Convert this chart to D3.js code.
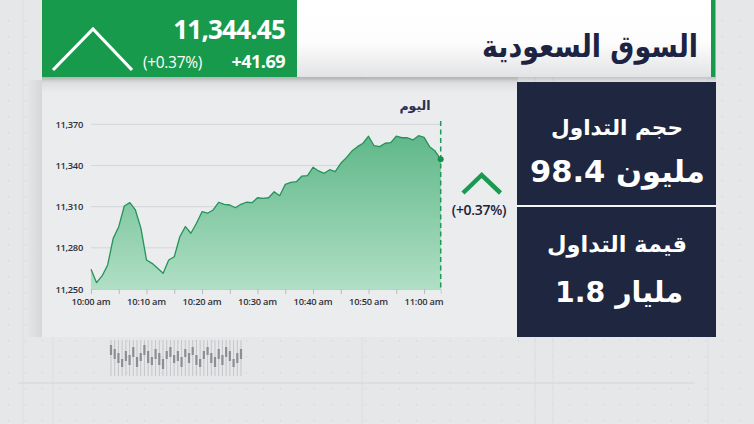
<!DOCTYPE html>
<html><head><meta charset="utf-8">
<script src="https://cdn.jsdelivr.net/npm/d3@7"></script>
<style>
html,body{margin:0;padding:0;background:#e6e7e9;}
svg{display:block;}
</style></head>
<body>
<svg id="c" width="754" height="424"></svg>
<script>
// ---- data ----
const times = ["10:00","10:01","10:02","10:03","10:04","10:05","10:06","10:07","10:08","10:09",
"10:10","10:11","10:12","10:13","10:14","10:15","10:16","10:17","10:18","10:19",
"10:20","10:21","10:22","10:23","10:24","10:25","10:26","10:27","10:28","10:29",
"10:30","10:31","10:32","10:33","10:34","10:35","10:36","10:37","10:38","10:39",
"10:40","10:41","10:42","10:43","10:44","10:45","10:46","10:47","10:48","10:49",
"10:50","10:51","10:52","10:53","10:54","10:55","10:56","10:57","10:58","10:59",
"11:00","11:01","11:02","11:03"];
const values = [11264.4,11254.6,11259.5,11267.5,11286.9,11295.4,11310.5,11312.9,11307.6,11294.2,
11271.1,11268.7,11265.1,11261.4,11271.1,11273.5,11288.1,11295.4,11290.6,11297.9,
11306.3,11305.2,11307.6,11313.2,11311.7,11311.2,11309.2,11311.7,11313.2,11312.9,
11316.5,11316.1,11316.5,11320.9,11318.0,11326.3,11327.7,11328.2,11332.3,11332.6,
11338.7,11336.0,11334.3,11336.9,11335.5,11341.6,11345.7,11350.5,11353.7,11356.2,
11361.3,11354.4,11353.7,11356.2,11356.6,11361.3,11360.2,11360.2,11358.6,11361.7,
11360.5,11353.7,11350.5,11344.45];
const yTicks = [11250,11280,11310,11340,11370];
const xTickTimes = ["10:00","10:05","10:10","10:15","10:20","10:25","10:30","10:35","10:40","10:45","10:50","10:55","11:00"];
const xLabelTimes = ["10:00","10:10","10:20","10:30","10:40","10:50","11:00"];
const xLabels = ["10:00 am","10:10 am","10:20 am","10:30 am","10:40 am","10:50 am","11:00 am"];
const indexValue = "11,344.45";
const indexChange = "+41.69";
const indexPct = "(+0.37%)";
const title = "السوق السعودية";
const dayLabel = "اليوم";
const volLabel = "حجم التداول";
const volValue = "مليون 98.4";
const valLabel = "قيمة التداول";
const valValue = "مليار 1.8";
// decorative candles in background [bodyTop, bodyBottom] offsets
const candles = [[4,14],[8,18],[12,22],[18,26],[10,20],[14,24],[6,16],[16,26],[12,20],[4,14],
[10,22],[16,24],[8,18],[12,24],[18,28],[10,18],[6,16],[14,22],[10,20],[16,26],
[8,16],[12,22],[6,14],[14,24],[18,26],[10,18],[6,14],[12,22],[16,26],[8,18],
[14,24],[6,16],[10,20],[18,26],[12,22],[8,18]];

const parse = d3.timeParse("%H:%M");
const svg = d3.select("#c");
const defs = svg.append("defs");

// ---- background decoration ----
const bg = svg.append("g");
bg.append("rect").attr("width",754).attr("height",424).attr("fill","#e6e7e9");
const dotsX = d3.range(8, 754, 17), dotsY = d3.range(20, 424, 16);
dotsY.forEach(y => bg.selectAll(null).data(dotsX).enter().append("rect")
  .attr("x", d=>d).attr("y", y).attr("width",1).attr("height",1.5).attr("fill","#d4d5d8"));
[23, 53, 362, 535, 553, 708].forEach(x => bg.append("line").attr("x1",x).attr("x2",x)
  .attr("y1",0).attr("y2",424).attr("stroke","#dddee1").attr("stroke-width",1));
bg.append("line").attr("x1",18).attr("x2",695).attr("y1",383).attr("y2",383).attr("stroke","#dadbde").attr("stroke-width",1.5);
// candles
const cx = d3.scaleLinear().domain([0, candles.length-1]).range([111, 241]);
const cg = bg.append("g");
cg.selectAll(".w").data(candles).enter().append("line")
  .attr("x1",(d,i)=>cx(i)).attr("x2",(d,i)=>cx(i)).attr("y1",340).attr("y2",376)
  .attr("stroke","#c4c5c8").attr("stroke-width",1);
cg.selectAll(".b").data(candles).enter().append("rect")
  .attr("x",(d,i)=>cx(i)-1.1).attr("y",d=>341+d[0]).attr("width",2.2).attr("height",d=>d[1]-d[0])
  .attr("fill","#8d8e92");

// ---- chart panel ----
const sh = defs.append("linearGradient").attr("id","lsh").attr("x1",0).attr("x2",1).attr("y1",0).attr("y2",0);
sh.append("stop").attr("offset",0).attr("stop-color","#000").attr("stop-opacity",0);
sh.append("stop").attr("offset",1).attr("stop-color","#000").attr("stop-opacity",0.07);
svg.append("rect").attr("x",26).attr("y",80).attr("width",16).attr("height",257).attr("fill","url(#lsh)");
svg.append("rect").attr("x",42).attr("y",80).attr("width",476).attr("height",257).attr("fill","#ebecee");
const tsh = defs.append("linearGradient").attr("id","tsh").attr("x1",0).attr("x2",0).attr("y1",0).attr("y2",1);
tsh.append("stop").attr("offset",0).attr("stop-color","#000").attr("stop-opacity",0.09);
tsh.append("stop").attr("offset",1).attr("stop-color","#000").attr("stop-opacity",0);
svg.append("rect").attr("x",42).attr("y",77).attr("width",476).attr("height",16).attr("fill","url(#tsh)");

// ---- scales ----
const x = d3.scaleTime().domain([parse("10:00"), parse("11:03")]).range([91, 440.7]);
const y = d3.scaleLinear().domain([11250, 11370]).range([289, 124.3]);
const data = times.map((t,i)=>({t:parse(t), v:values[i]}));

// grid
const g = svg.append("g");
g.selectAll(".grid").data(yTicks).enter().append("line")
  .attr("x1",91).attr("x2",441).attr("y1",d=>y(d)).attr("y2",d=>y(d))
  .attr("stroke","#d3d5d8").attr("stroke-width",1);
g.selectAll(".yl").data(yTicks).enter().append("text")
  .attr("x",83).attr("y",d=>y(d)+3.5).attr("text-anchor","end")
  .attr("font-family","Open Sans").attr("font-weight",600).attr("font-size",9.4).attr("fill","#2e3038")
  .attr("letter-spacing",-0.3).text(d3.format(","));

// area
const ag = defs.append("linearGradient").attr("id","ag").attr("gradientUnits","userSpaceOnUse")
  .attr("x1",0).attr("x2",0).attr("y1",130).attr("y2",289);
ag.append("stop").attr("offset",0).attr("stop-color","#5db687");
ag.append("stop").attr("offset",1).attr("stop-color","#b0dfc5");
g.append("path").datum(data)
  .attr("d", d3.area().x(d=>x(d.t)).y0(y(11250)).y1(d=>y(d.v)))
  .attr("fill","url(#ag)");
g.append("path").datum(data)
  .attr("d", d3.line().x(d=>x(d.t)).y(d=>y(d.v)))
  .attr("fill","none").attr("stroke","#23935a").attr("stroke-width",1.3).attr("stroke-linejoin","round");

// x axis
const xa = g.append("g").attr("transform","translate(0,289)")
  .call(d3.axisBottom(x).tickValues(xTickTimes.map(parse)).tickSize(5).tickFormat(""));
xa.select(".domain").attr("stroke","#c9cbce");
xa.selectAll(".tick line").attr("stroke","#b9bbbf");
g.selectAll(".xl").data(xLabelTimes).enter().append("text")
  .attr("x",d=>x(parse(d))).attr("y",305).attr("text-anchor","middle")
  .attr("font-family","Open Sans").attr("font-weight",600).attr("font-size",9.3).attr("fill","#2e3038")
  .attr("letter-spacing",-0.2).text((d,i)=>xLabels[i]);

// dashed end line + dot
const last = data[data.length-1];
g.append("line").attr("x1",x(last.t)).attr("x2",x(last.t)).attr("y1",121).attr("y2",289)
  .attr("stroke","#1f9a55").attr("stroke-width",1.5).attr("stroke-dasharray","5,3.5");
g.append("circle").attr("cx",x(last.t)).attr("cy",y(last.v)).attr("r",3).attr("fill","#16914c");
g.append("text").attr("x",415).attr("y",110).attr("text-anchor","middle")
  .attr("font-family","DejaVu Sans").attr("font-weight","bold").attr("font-size",12.5).attr("fill","#2a2f52")
  .text(dayLabel);

// side arrow + pct
g.append("polyline").attr("points","463,193 481.7,175 500.5,193").attr("fill","none")
  .attr("stroke","#1a9a50").attr("stroke-width",4.5).attr("stroke-linejoin","miter");
g.append("text").attr("x",479).attr("y",215).attr("text-anchor","middle")
  .attr("font-family","Open Sans").attr("font-weight",600).attr("font-size",14).attr("fill","#1c2236")
  .attr("letter-spacing",-0.3).text(indexPct);

// ---- header ----
const hsh = defs.append("linearGradient").attr("id","hsh").attr("x1",0).attr("x2",0).attr("y1",0).attr("y2",1);
hsh.append("stop").attr("offset",0).attr("stop-color","#000").attr("stop-opacity",0.15);
hsh.append("stop").attr("offset",1).attr("stop-color","#000").attr("stop-opacity",0);
svg.append("rect").attr("x",42).attr("y",77).attr("width",674).attr("height",6).attr("fill","url(#hsh)");
svg.append("rect").attr("x",42).attr("y",0).attr("width",255).attr("height",77).attr("fill","#189a4c");
const tg = defs.append("linearGradient").attr("id","tg").attr("x1",0).attr("x2",0).attr("y1",0).attr("y2",1);
tg.append("stop").attr("offset",0).attr("stop-color","#ffffff");
tg.append("stop").attr("offset",0.55).attr("stop-color","#fdfdfd");
tg.append("stop").attr("offset",1).attr("stop-color","#e2e3e5");
svg.append("rect").attr("x",297).attr("y",0).attr("width",415).attr("height",77).attr("fill","url(#tg)");
svg.append("rect").attr("x",711).attr("y",0).attr("width",4.5).attr("height",77).attr("fill","#189a4c");

svg.append("polyline").attr("points","53,70 93,29 132,70").attr("fill","none")
  .attr("stroke","#fff").attr("stroke-width",3.2);
svg.append("text").attr("x",285).attr("y",39).attr("text-anchor","end")
  .attr("font-family","Open Sans").attr("font-weight",700).attr("font-size",26).attr("fill","#fff")
  .attr("letter-spacing",-0.8).text(indexValue);
svg.append("text").attr("x",285).attr("y",68).attr("text-anchor","end")
  .attr("font-family","Open Sans").attr("font-weight",700).attr("font-size",18).attr("fill","#fff")
  .attr("letter-spacing",-0.5).text(indexChange);
svg.append("text").attr("x",202).attr("y",68).attr("text-anchor","end")
  .attr("font-family","Open Sans").attr("font-weight",400).attr("font-size",15.5).attr("fill","#fff")
  .attr("letter-spacing",-0.3).text(indexPct);

function fit(sel, w){
  const n = sel.node(); const fs = +sel.attr("font-size");
  const len = n.getComputedTextLength();
  if (len>0) sel.attr("font-size", fs*w/len);
  return sel;
}
const tt = svg.append("g").attr("transform","translate(698,57) scale(1,1.15)");
fit(tt.append("text").attr("x",0).attr("y",0).attr("text-anchor","end")
  .attr("font-family","DejaVu Sans").attr("font-weight","bold").attr("font-size",28).attr("fill","#1d2343")
  .text(title), 216);

// ---- right panels ----
svg.append("rect").attr("x",517).attr("y",82).attr("width",199).attr("height",123).attr("fill","#1e2640");
svg.append("rect").attr("x",517).attr("y",205).attr("width",199).attr("height",2).attr("fill","#f4f4f6");
svg.append("rect").attr("x",517).attr("y",207).attr("width",199).attr("height",130).attr("fill","#1e2640");
fit(svg.append("text").attr("x",617).attr("y",135).attr("text-anchor","middle")
  .attr("font-family","DejaVu Sans").attr("font-weight","bold").attr("font-size",24).attr("fill","#fff")
  .text(volLabel), 132);
fit(svg.append("text").attr("x",617.5).attr("y",182).attr("text-anchor","middle")
  .attr("font-family","DejaVu Sans").attr("font-weight","bold").attr("font-size",36).attr("fill","#fff")
  .text(volValue), 175);
fit(svg.append("text").attr("x",617).attr("y",252).attr("text-anchor","middle")
  .attr("font-family","DejaVu Sans").attr("font-weight","bold").attr("font-size",24).attr("fill","#fff")
  .text(valLabel), 140);
fit(svg.append("text").attr("x",619).attr("y",302).attr("text-anchor","middle")
  .attr("font-family","DejaVu Sans").attr("font-weight","bold").attr("font-size",36).attr("fill","#fff")
  .text(valValue), 128);
</script>
</body></html>
